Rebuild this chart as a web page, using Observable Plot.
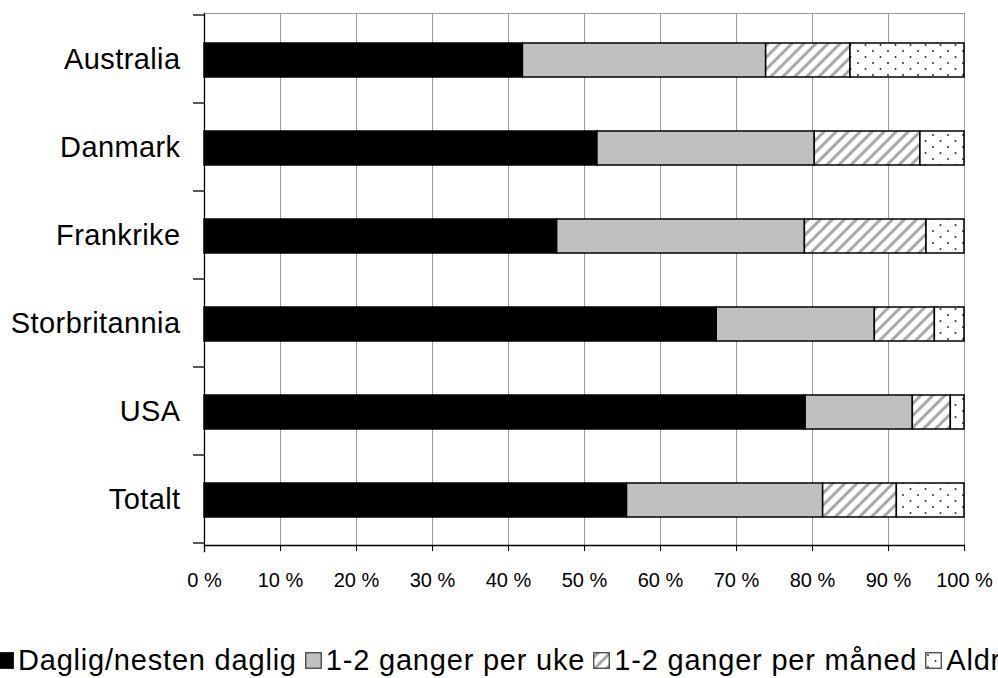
<!DOCTYPE html>
<html><head><meta charset="utf-8">
<script src="https://cdn.jsdelivr.net/npm/d3@7"></script>
<script src="https://cdn.jsdelivr.net/npm/@observablehq/plot@0.6"></script>
<style>
body{margin:0;background:#fff;font-family:"Liberation Sans",Arial,sans-serif;}
#wrap{position:relative;width:998px;height:678px;overflow:hidden;background:#fff;}
#legend{position:absolute;left:-3px;top:644px;white-space:nowrap;font-size:29px;letter-spacing:0.8px;line-height:32px;color:#000;display:flex;align-items:center;}
.item{display:inline-flex;align-items:center;margin-right:8px}
.item svg{margin-right:4px;display:block}
</style></head><body><div id="wrap"><div id="chart"></div><div id="legend"></div></div>
<script>
const categories = ["Australia", "Danmark", "Frankrike", "Storbritannia", "USA", "Totalt"];
const series = ["Daglig/nesten daglig", "1-2 ganger per uke", "1-2 ganger per måned", "Aldri"];
const daglig = [41.9, 51.7, 46.4, 67.4, 79.1, 55.6];
const uke    = [32.0, 28.6, 32.6, 20.8, 14.1, 25.8];
const maned  = [11.1, 13.9, 16.0, 7.9, 5.0, 9.7];
const aldri  = [15.0, 5.8, 5.0, 3.9, 1.8, 8.9];
const xTicks = [0, 10, 20, 30, 40, 50, 60, 70, 80, 90, 100];
const fills = ["#000000", "#c0c0c0", "url(#hatch)", "url(#dots)"];

const values = [daglig, uke, maned, aldri];
const data = [];
series.forEach((s, i) => categories.forEach((c, j) => data.push({category: c, series: s, value: values[i][j]})));

const font = '"Liberation Sans", Arial, sans-serif';
const plot = Plot.plot({
  width: 998, height: 630,
  marginLeft: 204, marginRight: 34, marginTop: 13, marginBottom: 85,
  style: {fontFamily: font, background: "white", color: "#000", overflow: "visible"},
  x: {domain: [0, 100]},
  y: {domain: categories, padding: 0},
  color: {domain: series, range: fills},
  marks: [
    Plot.ruleX(xTicks, {stroke: "#9a9a9a", strokeWidth: 1}),
    Plot.frame({stroke: "#9a9a9a"}),
    Plot.barX(data, Plot.stackX({x: "value", y: "category", fill: "series", order: series,
      stroke: "#000", strokeWidth: 1.5, insetTop: 28, insetBottom: 26})),
    Plot.frame({anchor: "left", stroke: "#000", strokeWidth: 1.3, insetBottom: -6}),
    Plot.frame({anchor: "bottom", stroke: "#000", strokeWidth: 1.3}),
    Plot.axisX({ticks: xTicks, tickFormat: d => d + " %", tickSize: 6, tickPadding: 21, fontSize: 20, label: null, stroke: "#000"}),
    Plot.axisY({tickSize: 0, tickPadding: 24, fontSize: 29, label: null})
  ]
});
document.getElementById("chart").appendChild(plot);

// pattern definitions
const svg = d3.select(plot);
const defs = svg.insert("defs", ":first-child");
const hatch = defs.append("pattern").attr("id", "hatch").attr("patternUnits", "userSpaceOnUse")
  .attr("width", 8.5).attr("height", 8.5).attr("patternTransform", "rotate(45)");
hatch.append("rect").attr("width", 8.5).attr("height", 8.5).attr("fill", "#fff");
hatch.append("line").attr("x1", 4.25).attr("x2", 4.25).attr("y1", 0).attr("y2", 8.5)
  .attr("stroke", "#a8a8a8").attr("stroke-width", 3);
const dots = defs.append("pattern").attr("id", "dots").attr("patternUnits", "userSpaceOnUse")
  .attr("width", 15).attr("height", 12);
dots.append("rect").attr("width", 15).attr("height", 12).attr("fill", "#fff");
dots.append("circle").attr("cx", 3).attr("cy", 3).attr("r", 1).attr("fill", "#333");
dots.append("circle").attr("cx", 10.5).attr("cy", 9).attr("r", 1).attr("fill", "#333");

// y-axis label letter spacing (stretch like the reference)
svg.selectAll("g[aria-label='y-axis tick label'] text").style("letter-spacing", "0.4px");

// boundary tick marks on the category axis
const ys = plot.scale("y");
const xs = plot.scale("x");
const step = ys.step ?? ys.bandwidth;
const bounds = categories.map(c => ys.apply(c)).concat([ys.apply(categories[categories.length - 1]) + step]);
const x0 = xs.apply(0);
svg.append("g").selectAll("line").data(bounds).join("line")
  .attr("x1", x0 - 11).attr("x2", x0).attr("y1", d => d).attr("y2", d => d)
  .attr("stroke", "#000").attr("stroke-width", 1.3);

// legend
const legend = d3.select("#legend");
series.forEach((s, i) => {
  const item = legend.append("span").attr("class", "item");
  const sw = item.append("svg").attr("width", 17).attr("height", 17);
  sw.append("rect").attr("x", 0.75).attr("y", 0.75).attr("width", 15.5).attr("height", 15.5)
    .attr("fill", fills[i]).attr("stroke", i === 0 ? "#000" : "#333").attr("stroke-width", 1.2);
  item.append("span").text(s);
});
</script></body></html>
